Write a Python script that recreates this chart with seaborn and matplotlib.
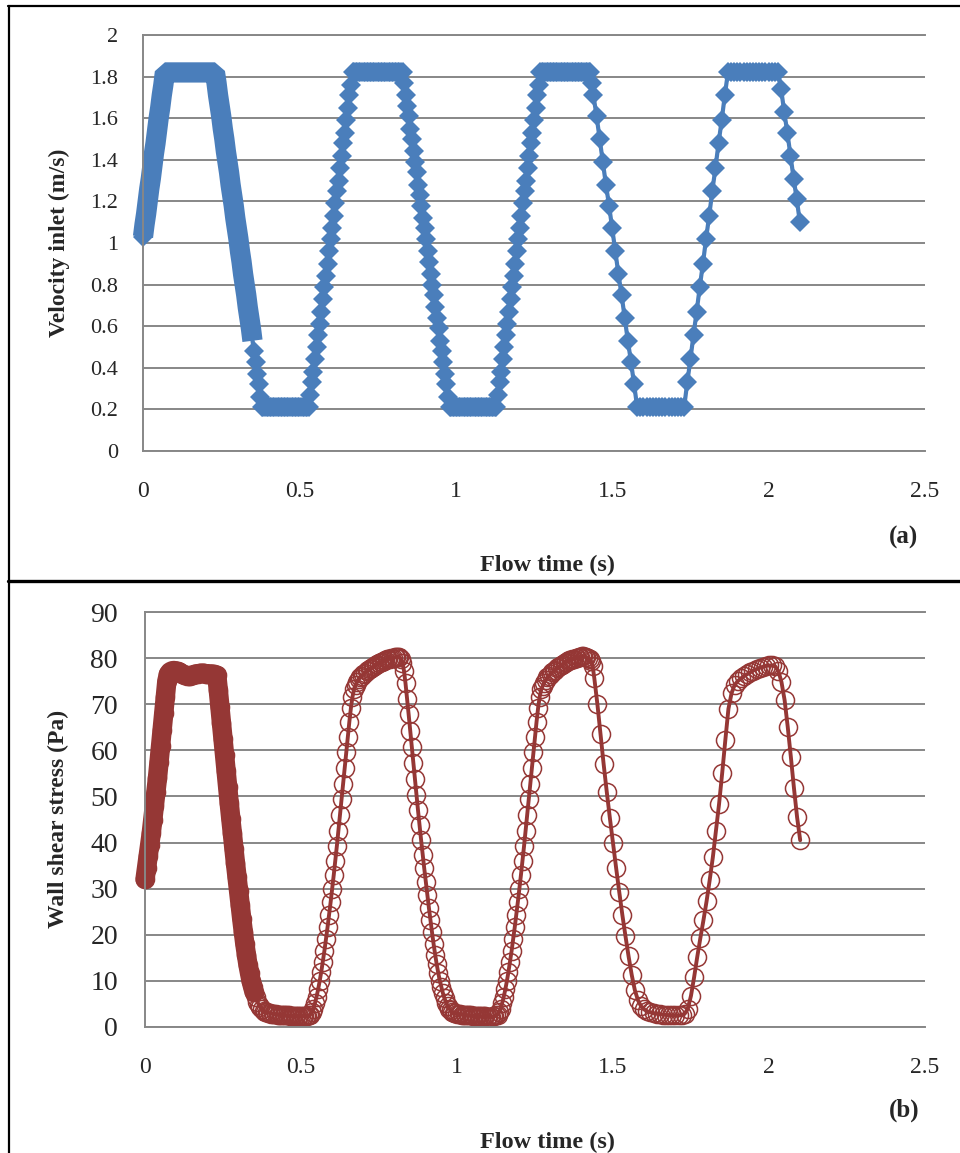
import matplotlib
matplotlib.use("Agg")
import pandas as pd
import seaborn as sns
from matplotlib import pyplot as plt
from matplotlib.lines import Line2D

# simulation output: 0.005 s steps up to 1.44 s, then 0.01 s
flow_time = [
    0.000, 0.005, 0.010, 0.015, 0.020, 0.025, 0.030, 0.035, 0.040, 0.045,
    0.050, 0.055, 0.060, 0.065, 0.070, 0.075, 0.080, 0.085, 0.090, 0.095,
    0.100, 0.105, 0.110, 0.115, 0.120, 0.125, 0.130, 0.135, 0.140, 0.145,
    0.150, 0.155, 0.160, 0.165, 0.170, 0.175, 0.180, 0.185, 0.190, 0.195,
    0.200, 0.205, 0.210, 0.215, 0.220, 0.225, 0.230, 0.235, 0.240, 0.245,
    0.250, 0.255, 0.260, 0.265, 0.270, 0.275, 0.280, 0.285, 0.290, 0.295,
    0.300, 0.305, 0.310, 0.315, 0.320, 0.325, 0.330, 0.335, 0.340, 0.345,
    0.350, 0.355, 0.360, 0.365, 0.370, 0.375, 0.380, 0.385, 0.390, 0.395,
    0.400, 0.405, 0.410, 0.415, 0.420, 0.425, 0.430, 0.435, 0.440, 0.445,
    0.450, 0.455, 0.460, 0.465, 0.470, 0.475, 0.480, 0.485, 0.490, 0.495,
    0.500, 0.505, 0.510, 0.515, 0.520, 0.525, 0.530, 0.535, 0.540, 0.545,
    0.550, 0.555, 0.560, 0.565, 0.570, 0.575, 0.580, 0.585, 0.590, 0.595,
    0.600, 0.605, 0.610, 0.615, 0.620, 0.625, 0.630, 0.635, 0.640, 0.645,
    0.650, 0.655, 0.660, 0.665, 0.670, 0.675, 0.680, 0.685, 0.690, 0.695,
    0.700, 0.705, 0.710, 0.715, 0.720, 0.725, 0.730, 0.735, 0.740, 0.745,
    0.750, 0.755, 0.760, 0.765, 0.770, 0.775, 0.780, 0.785, 0.790, 0.795,
    0.800, 0.805, 0.810, 0.815, 0.820, 0.825, 0.830, 0.835, 0.840, 0.845,
    0.850, 0.855, 0.860, 0.865, 0.870, 0.875, 0.880, 0.885, 0.890, 0.895,
    0.900, 0.905, 0.910, 0.915, 0.920, 0.925, 0.930, 0.935, 0.940, 0.945,
    0.950, 0.955, 0.960, 0.965, 0.970, 0.975, 0.980, 0.985, 0.990, 0.995,
    1.000, 1.005, 1.010, 1.015, 1.020, 1.025, 1.030, 1.035, 1.040, 1.045,
    1.050, 1.055, 1.060, 1.065, 1.070, 1.075, 1.080, 1.085, 1.090, 1.095,
    1.100, 1.105, 1.110, 1.115, 1.120, 1.125, 1.130, 1.135, 1.140, 1.145,
    1.150, 1.155, 1.160, 1.165, 1.170, 1.175, 1.180, 1.185, 1.190, 1.195,
    1.200, 1.205, 1.210, 1.215, 1.220, 1.225, 1.230, 1.235, 1.240, 1.245,
    1.250, 1.255, 1.260, 1.265, 1.270, 1.275, 1.280, 1.285, 1.290, 1.295,
    1.300, 1.305, 1.310, 1.315, 1.320, 1.325, 1.330, 1.335, 1.340, 1.345,
    1.350, 1.355, 1.360, 1.365, 1.370, 1.375, 1.380, 1.385, 1.390, 1.395,
    1.400, 1.405, 1.410, 1.415, 1.420, 1.425, 1.430, 1.435, 1.440,
    1.45, 1.46, 1.47, 1.48, 1.49, 1.50, 1.51, 1.52, 1.53, 1.54,
    1.55, 1.56, 1.57, 1.58, 1.59, 1.60, 1.61, 1.62, 1.63, 1.64,
    1.65, 1.66, 1.67, 1.68, 1.69, 1.70, 1.71, 1.72, 1.73, 1.74,
    1.75, 1.76, 1.77, 1.78, 1.79, 1.80, 1.81, 1.82, 1.83, 1.84,
    1.85, 1.86, 1.87, 1.88, 1.89, 1.90, 1.91, 1.92, 1.93, 1.94,
    1.95, 1.96, 1.97, 1.98, 1.99, 2.00, 2.01, 2.02, 2.03, 2.04,
    2.05, 2.06, 2.07, 2.08, 2.09, 2.10,
]

velocity_inlet = [
    1.03, 1.09, 1.14, 1.20, 1.26, 1.31, 1.37, 1.43, 1.48, 1.54,
    1.60, 1.65, 1.71, 1.76, 1.82, 1.82, 1.82, 1.82, 1.82, 1.82,
    1.82, 1.82, 1.82, 1.82, 1.82, 1.82, 1.82, 1.82, 1.82, 1.82,
    1.82, 1.82, 1.82, 1.82, 1.82, 1.82, 1.82, 1.82, 1.82, 1.82,
    1.82, 1.82, 1.82, 1.82, 1.82, 1.82, 1.82, 1.77, 1.71, 1.66,
    1.61, 1.55, 1.50, 1.44, 1.39, 1.34, 1.28, 1.23, 1.18, 1.12,
    1.07, 1.02, 0.96, 0.91, 0.85, 0.80, 0.75, 0.69, 0.64, 0.59,
    0.53, 0.48, 0.43, 0.37, 0.32, 0.26, 0.21, 0.21, 0.21, 0.21,
    0.21, 0.21, 0.21, 0.21, 0.21, 0.21, 0.21, 0.21, 0.21, 0.21,
    0.21, 0.21, 0.21, 0.21, 0.21, 0.21, 0.21, 0.21, 0.21, 0.21,
    0.21, 0.21, 0.21, 0.21, 0.21, 0.21, 0.21, 0.27, 0.33, 0.38,
    0.44, 0.50, 0.56, 0.61, 0.67, 0.73, 0.79, 0.84, 0.90, 0.96,
    1.02, 1.07, 1.13, 1.19, 1.25, 1.30, 1.36, 1.42, 1.48, 1.53,
    1.59, 1.65, 1.71, 1.76, 1.82, 1.82, 1.82, 1.82, 1.82, 1.82,
    1.82, 1.82, 1.82, 1.82, 1.82, 1.82, 1.82, 1.82, 1.82, 1.82,
    1.82, 1.82, 1.82, 1.82, 1.82, 1.82, 1.82, 1.82, 1.82, 1.82,
    1.82, 1.82, 1.82, 1.82, 1.82, 1.82, 1.82, 1.77, 1.71, 1.66,
    1.61, 1.55, 1.50, 1.44, 1.39, 1.34, 1.28, 1.23, 1.18, 1.12,
    1.07, 1.02, 0.96, 0.91, 0.85, 0.80, 0.75, 0.69, 0.64, 0.59,
    0.53, 0.48, 0.43, 0.37, 0.32, 0.26, 0.21, 0.21, 0.21, 0.21,
    0.21, 0.21, 0.21, 0.21, 0.21, 0.21, 0.21, 0.21, 0.21, 0.21,
    0.21, 0.21, 0.21, 0.21, 0.21, 0.21, 0.21, 0.21, 0.21, 0.21,
    0.21, 0.21, 0.21, 0.21, 0.21, 0.21, 0.21, 0.27, 0.33, 0.38,
    0.44, 0.50, 0.56, 0.61, 0.67, 0.73, 0.79, 0.84, 0.90, 0.96,
    1.02, 1.07, 1.13, 1.19, 1.25, 1.30, 1.36, 1.42, 1.48, 1.53,
    1.59, 1.65, 1.71, 1.76, 1.82, 1.82, 1.82, 1.82, 1.82, 1.82,
    1.82, 1.82, 1.82, 1.82, 1.82, 1.82, 1.82, 1.82, 1.82, 1.82,
    1.82, 1.82, 1.82, 1.82, 1.82, 1.82, 1.82, 1.82, 1.82, 1.82,
    1.82, 1.82, 1.82, 1.82, 1.82, 1.82, 1.82, 1.77, 1.71,
    1.61, 1.50, 1.39, 1.28, 1.18, 1.07, 0.96, 0.85, 0.75, 0.64,
    0.53, 0.43, 0.32, 0.21, 0.21, 0.21, 0.21, 0.21, 0.21, 0.21,
    0.21, 0.21, 0.21, 0.21, 0.21, 0.21, 0.21, 0.21, 0.21, 0.33,
    0.44, 0.56, 0.67, 0.79, 0.90, 1.02, 1.13, 1.25, 1.36, 1.48,
    1.59, 1.71, 1.82, 1.82, 1.82, 1.82, 1.82, 1.82, 1.82, 1.82,
    1.82, 1.82, 1.82, 1.82, 1.82, 1.82, 1.82, 1.82, 1.82, 1.74,
    1.63, 1.53, 1.42, 1.31, 1.21, 1.10,
]

wall_shear_stress = [
    32.0, 34.5, 37.0, 39.5, 42.0, 45.0, 48.0, 51.0, 54.0, 57.5,
    61.0, 64.5, 68.0, 71.5, 75.0, 76.5, 77.0, 77.2, 77.3, 77.3,
    77.2, 77.1, 77.0, 76.8, 76.6, 76.4, 76.3, 76.2, 76.2, 76.2,
    76.3, 76.4, 76.5, 76.6, 76.6, 76.7, 76.7, 76.7, 76.7, 76.6,
    76.6, 76.6, 76.5, 76.5, 76.5, 76.4, 76.3, 73.0, 69.5, 66.0,
    62.5, 59.0, 55.5, 52.0, 48.5, 45.2, 42.0, 38.7, 35.5, 32.5,
    29.5, 26.5, 23.5, 20.7, 18.0, 15.7, 13.5, 11.7, 10.0, 8.7,
    7.5, 6.4, 5.5, 4.8, 4.3, 3.9, 3.5, 3.3, 3.2, 3.1,
    3.0, 2.9, 2.9, 2.8, 2.8, 2.7, 2.7, 2.6, 2.6, 2.6,
    2.5, 2.5, 2.5, 2.4, 2.4, 2.4, 2.4, 2.3, 2.3, 2.3,
    2.3, 2.3, 2.3, 2.3, 2.4, 2.5, 2.7, 3.2, 4.0, 5.2,
    6.6, 8.2, 10.0, 12.0, 14.2, 16.5, 19.0, 21.6, 24.3, 27.1,
    30.0, 33.0, 36.1, 39.3, 42.6, 46.0, 49.4, 52.8, 56.2, 59.6,
    63.0, 66.2, 69.2, 71.6, 73.2, 74.2, 74.9, 75.4, 75.8, 76.2,
    76.5, 76.8, 77.1, 77.4, 77.6, 77.9, 78.1, 78.3, 78.5, 78.7,
    78.9, 79.1, 79.2, 79.4, 79.5, 79.7, 79.8, 79.9, 80.0, 80.1,
    80.2, 80.3, 80.3, 80.2, 79.8, 78.9, 77.3, 74.5, 71.2, 67.8,
    64.3, 60.8, 57.3, 53.8, 50.3, 47.0, 43.7, 40.5, 37.4, 34.4,
    31.5, 28.6, 25.8, 23.1, 20.5, 18.0, 15.7, 13.6, 11.7, 10.0,
    8.6, 7.3, 6.2, 5.3, 4.6, 4.0, 3.6, 3.3, 3.1, 3.0,
    2.9, 2.8, 2.8, 2.7, 2.7, 2.6, 2.6, 2.5, 2.5, 2.5,
    2.4, 2.4, 2.4, 2.4, 2.3, 2.3, 2.3, 2.3, 2.3, 2.2,
    2.2, 2.2, 2.2, 2.3, 2.3, 2.5, 2.7, 3.2, 4.0, 5.2,
    6.6, 8.2, 10.0, 12.0, 14.2, 16.5, 19.0, 21.6, 24.3, 27.1,
    30.0, 33.0, 36.1, 39.3, 42.6, 46.0, 49.4, 52.8, 56.2, 59.6,
    63.0, 66.2, 69.2, 71.6, 73.2, 74.0, 74.7, 75.3, 75.8, 76.2,
    76.6, 76.9, 77.2, 77.5, 77.8, 78.0, 78.3, 78.5, 78.7, 78.9,
    79.1, 79.3, 79.5, 79.6, 79.8, 79.9, 80.0, 80.1, 80.2, 80.3,
    80.4, 80.4, 80.3, 80.2, 80.0, 79.7, 79.3, 78.2, 75.7,
    70.0, 63.5, 57.0, 51.0, 45.3, 39.9, 34.5, 29.3, 24.3, 19.7,
    15.3, 11.3, 8.0, 5.8, 4.5, 3.8, 3.4, 3.2, 3.0, 2.9,
    2.8, 2.7, 2.6, 2.6, 2.5, 2.5, 2.5, 2.6, 2.9, 4.0,
    6.8, 10.8, 15.2, 19.3, 23.2, 27.3, 31.9, 36.8, 42.5, 48.4,
    55.1, 62.2, 69.0, 72.4, 74.2, 75.0, 75.6, 76.1, 76.5, 76.9,
    77.3, 77.6, 77.9, 78.1, 78.3, 78.4, 78.4, 78.2, 77.2, 74.8,
    70.9, 65.1, 58.6, 51.8, 45.5, 40.5,
]

x_ticks = [0, 0.5, 1, 1.5, 2, 2.5]
x_tick_labels = ["0", "0.5", "1", "1.5", "2", "2.5"]
vel_ticks = [0, 0.2, 0.4, 0.6, 0.8, 1.0, 1.2, 1.4, 1.6, 1.8, 2.0]
vel_tick_labels = ["0", "0.2", "0.4", "0.6", "0.8", "1", "1.2", "1.4", "1.6", "1.8", "2"]
wss_ticks = [0, 10, 20, 30, 40, 50, 60, 70, 80, 90]
wss_tick_labels = ["0", "10", "20", "30", "40", "50", "60", "70", "80", "90"]

BLUE = "#4a7ebb"
RED = "#953735"
GRID = "#878787"
W, H = 960, 1153

sns.set_style("white")
plt.rcParams["font.family"] = ["Liberation Serif", "DejaVu Serif"]

df = pd.DataFrame({"time": flow_time, "velocity": velocity_inlet, "wss": wall_shear_stress})
# the first 0.35 s was written out so finely that the markers merge into a band
dense = df[df["time"] <= 0.35]
# diamonds inside the band are hidden by it anyway, keep the first one for the tip
diamond_idx = [0] + [i for i, t in enumerate(flow_time) if t > 0.35]


def px_axes(fig, left, top, right, bottom):
    return fig.add_axes([left / W, 1 - bottom / H, (right - left) / W, (bottom - top) / H])


def style_axes(ax, yticks, ylabels, ysize, ypad):
    ax.set_xlim(0, 2.5)
    ax.set_ylim(yticks[0], yticks[-1])
    ax.set_xticks(x_ticks)
    ax.set_xticklabels(x_tick_labels, fontsize=17)
    ax.set_yticks(yticks)
    ax.set_yticklabels(ylabels, fontsize=ysize)
    ax.tick_params(length=0)
    ax.tick_params(axis="x", pad=21.5)
    ax.tick_params(axis="y", pad=ypad)
    ax.grid(axis="y", color=GRID, linewidth=1.4)
    ax.grid(axis="x", visible=False)
    ax.set_axisbelow(True)
    ax.spines["right"].set_visible(False)
    for s in ["left", "bottom", "top"]:
        ax.spines[s].set_color(GRID)
        ax.spines[s].set_linewidth(1.4)
    ax.set_xlabel("")
    ax.set_ylabel("")


fig = plt.figure(figsize=(W / 100, H / 100), dpi=100)
fig.patch.set_facecolor("white")

# (a) velocity inlet
ax1 = px_axes(fig, 143, 35, 925, 451)
sns.lineplot(data=dense, x="time", y="velocity", ax=ax1, color=BLUE, linewidth=14.6,
             estimator=None, sort=False, solid_capstyle="butt", solid_joinstyle="bevel",
             clip_on=False)
sns.lineplot(data=df, x="time", y="velocity", ax=ax1, color=BLUE, linewidth=3.0,
             marker="D", markersize=10.4, markerfacecolor=BLUE, markeredgecolor=BLUE,
             markeredgewidth=0, markevery=diamond_idx, estimator=None, sort=False,
             clip_on=False)
style_axes(ax1, vel_ticks, vel_tick_labels, 16, 18)

# (b) wall shear stress
ax2 = px_axes(fig, 145, 612, 925, 1027)
sns.lineplot(data=dense, x="time", y="wss", ax=ax2, color=RED, linewidth=14.0,
             estimator=None, sort=False, solid_capstyle="round", solid_joinstyle="round",
             clip_on=False)
sns.lineplot(data=df, x="time", y="wss", ax=ax2, color=RED, linewidth=2.8,
             marker="o", markersize=13.0, markerfacecolor="none", markeredgecolor=RED,
             markeredgewidth=1.1, estimator=None, sort=False, clip_on=False)
style_axes(ax2, wss_ticks, wss_tick_labels, 20, 19.5)

bold = dict(fontweight="bold", ha="center", va="center")
fig.text(59 / W, 1 - 243 / H, "Velocity inlet (m/s)", rotation=90, fontsize=17, **bold)
fig.text(58 / W, 1 - 819 / H, "Wall shear stress (Pa)", rotation=90, fontsize=17, **bold)
fig.text(548 / W, 1 - 565 / H, "Flow time (s)", fontsize=17.5, **bold)
fig.text(548 / W, 1 - 1142 / H, "Flow time (s)", fontsize=17.5, **bold)
fig.text(904 / W, 1 - 537 / H, "(a)", fontsize=18, **bold)
fig.text(904 / W, 1 - 1110 / H, "(b)", fontsize=18, **bold)

# panel frames
for xs, ys, lw in [([8, W], [6, 6], 1.6), ([9, 9], [6, H], 1.6), ([8, W], [581, 581], 2.4)]:
    fig.add_artist(Line2D([x / W for x in xs], [1 - y / H for y in ys],
                          transform=fig.transFigure, color="black", linewidth=lw))

fig.savefig("out.png", dpi=100, facecolor="white")
